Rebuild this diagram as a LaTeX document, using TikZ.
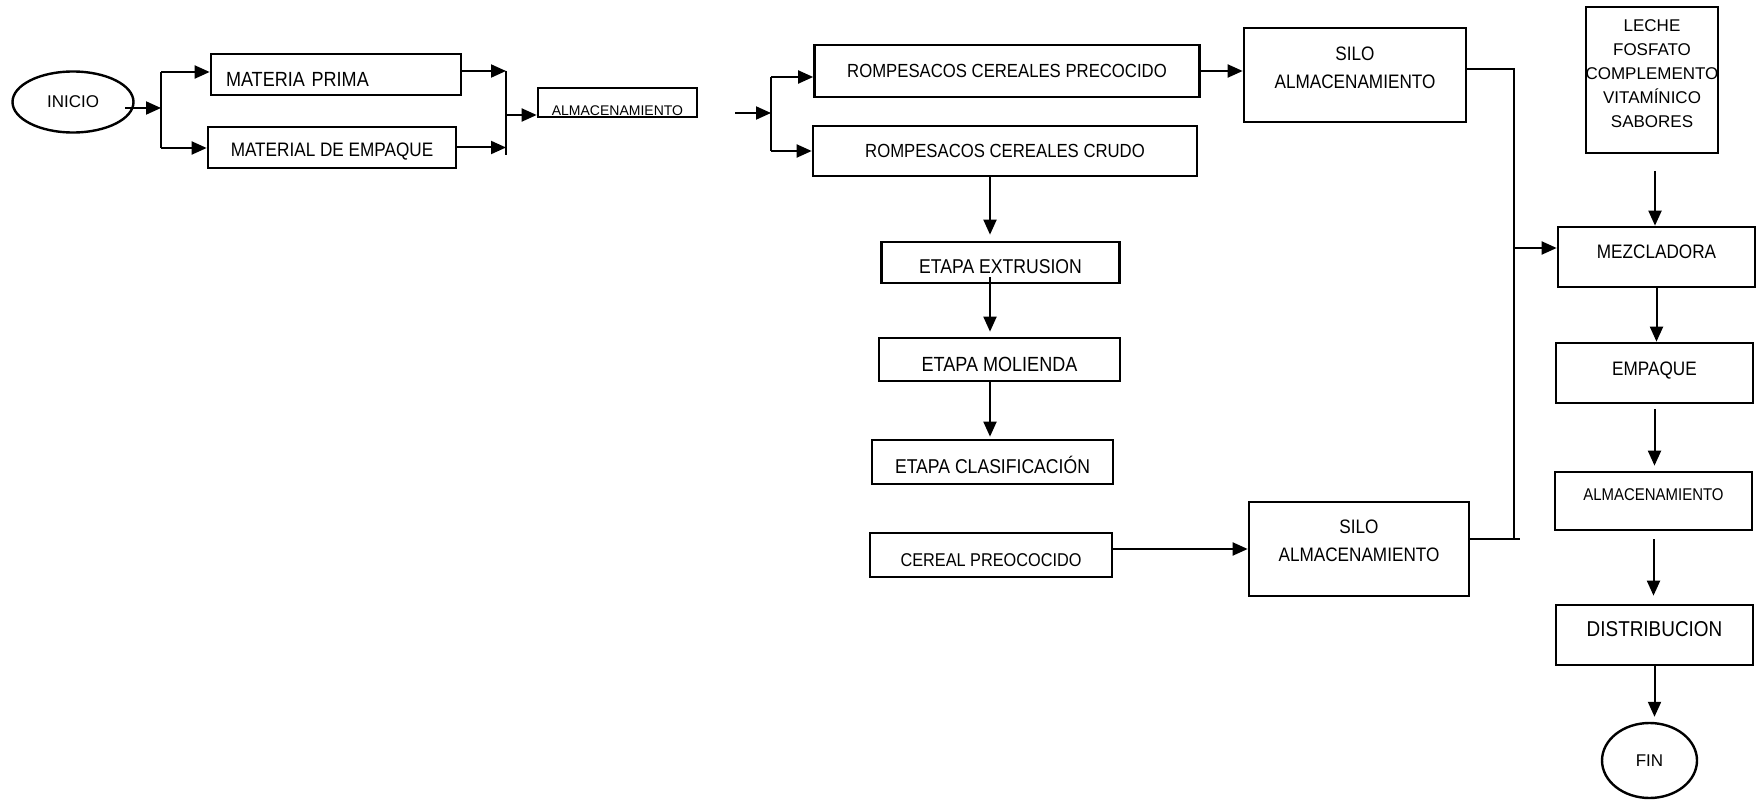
\documentclass[tikz,border=0pt]{standalone}
\usepackage{fontspec}
\setmainfont{Liberation Sans}
\newfontfamily\cf[FakeStretch=0.88]{Liberation Sans}
\newcommand\cfsz[2]{\cf\fontsize{#1}{#2}\selectfont}
\usetikzlibrary{arrows.meta,shapes.geometric,calc}
\begin{document}
\begin{tikzpicture}[x=1pt,y=-1pt,
  box/.style={draw, line width=2.7pt, rectangle, inner sep=0pt, font=\cfsz{19.5}{22}},
  oval/.style={draw, line width=2.4pt, ellipse, inner sep=0pt, font=\fontsize{17}{20}\selectfont},
  arr/.style={line width=2pt, -{Triangle[length=15pt,width=13pt]}},
  ln/.style={line width=2pt},
  txtlow/.style={text height=23pt, text depth=0pt},
  txthigh/.style={text height=10pt, text depth=6pt},
]
\useasboundingbox (0,0) rectangle (1762,802);

% nodes
\node[oval, minimum width=121pt, minimum height=61pt] (inicio) at (73,102) {INICIO};
\node[box, minimum width=250pt, minimum height=41pt, text width=220pt, align=left, font=\cfsz{20.5}{22}, text height=25pt, text depth=0pt] (mp) at (336,74.5) {MATERIA PRIMA};
\node[box, minimum width=248pt, minimum height=41pt, text height=18pt, text depth=0pt] (me) at (332,147.5) {MATERIAL DE EMPAQUE};
\node[box, minimum width=159pt, minimum height=29pt,
  label={[font=\fontsize{14}{16}\selectfont, anchor=base west, inner sep=0pt, xshift=15pt, yshift=3pt]south west:ALMACENAMIENTO}] (alma1) at (617.5,102.5) {};
\node[box, minimum width=385pt, minimum height=52pt, font=\cfsz{19}{22}] (rcp) at (1007,71) {ROMPESACOS CEREALES PRECOCIDO};
\node[box, minimum width=384pt, minimum height=50pt, font=\cfsz{19}{22}] (rcc) at (1005,151) {ROMPESACOS CEREALES CRUDO};
\node[box, minimum width=222pt, minimum height=94pt,
  label={[font=\cfsz{19.5}{28}, align=center, yshift=7.5pt]center:{SILO\\ALMACENAMIENTO}}] (silo1) at (1355,75) {};
\node[box, minimum width=238pt, minimum height=41pt, font=\cfsz{20}{22}, txtlow] (extr) at (1000.5,262.5) {ETAPA EXTRUSION};
\node[box, minimum width=241pt, minimum height=43pt, font=\cfsz{20.5}{22}, txtlow] (mol) at (999.5,359.5) {ETAPA MOLIENDA};
\node[box, minimum width=241pt, minimum height=44pt, font=\cfsz{20}{22}, txtlow] (clas) at (992.5,462) {ETAPA CLASIFICACIÓN};
\node[box, minimum width=242pt, minimum height=44pt, font=\cfsz{18.5}{22}, txtlow] (cereal) at (991,555) {CEREAL PREOCOCIDO};
\node[box, minimum width=220pt, minimum height=94pt,
  label={[font=\cfsz{19.5}{28}, align=center, yshift=8.5pt]center:{SILO\\ALMACENAMIENTO}}] (silo2) at (1359,549) {};
\node[box, minimum width=132pt, minimum height=146pt,
  label={[font=\fontsize{17}{24}\selectfont, align=center, yshift=6.5pt]center:{LECHE\\FOSFATO\\COMPLEMENTO\\VITAMÍNICO\\SABORES}}] (leche) at (1652,80) {};
\node[box, minimum width=197pt, minimum height=60pt, txthigh] (mez) at (1656.5,257) {MEZCLADORA};
\node[box, minimum width=197pt, minimum height=60pt, txthigh] (emp) at (1654.5,373) {EMPAQUE};
\node[box, minimum width=197pt, minimum height=58pt,
  label={[font=\cfsz{17}{20}, yshift=6pt]center:ALMACENAMIENTO}] (alma2) at (1653.5,501) {};
\node[box, minimum width=197pt, minimum height=60pt, font=\cfsz{21.5}{24}, text height=10pt, text depth=6.5pt] (dist) at (1654.5,635) {DISTRIBUCION};
\node[oval, minimum width=95pt, minimum height=75pt] (fin) at (1649.5,760.5) {FIN};

% left branch
\coordinate (ie) at (125,108);
\coordinate (b1) at (161,108);
\coordinate (b1t) at (161,72);
\coordinate (b1b) at (161,148);
\draw[arr] (ie) -- (b1);
\draw[ln] (b1t) -- (b1b);
\draw[arr] (b1t) -- (b1t -| mp.west);
\draw[arr] (b1b) -- (b1b -| me.west);

\coordinate (j1) at (506,115);
\coordinate (j1t) at (506,71);
\coordinate (j1b) at (506,155);
\coordinate (mpo) at ([yshift=3.5pt]mp.east);
\draw[arr] (mpo) -- (mpo -| j1);
\draw[arr] (me.east) -- (me.east -| j1);
\draw[ln] (j1t) -- (j1b);
\draw[arr] (j1) -- (j1 -| alma1.west);

% middle branch
\coordinate (a2) at (735,113);
\coordinate (j2) at (771,113);
\coordinate (j2t) at (771,77);
\coordinate (j2b) at (771,151);
\draw[arr] (a2) -- (j2);
\draw[ln] (j2t) -- (j2b);
\draw[arr] (j2t) -- (j2t -| rcp.west);
\draw[arr] (j2b) -- (j2b -| rcc.west);
\draw[arr] (rcp.east) -- (rcp.east -| silo1.west);

\coordinate (cx) at (990,0);
\coordinate (e2) at (990,277);
\draw[arr, shorten >=6pt] (rcc.south -| cx) -- (extr.north -| cx);
\draw[arr, shorten >=5pt] (e2) -- (mol.north -| cx);
\draw[arr, shorten >=2pt] (mol.south -| cx) -- (clas.north -| cx);
\coordinate (ce) at ([yshift=6pt]cereal.east);
\draw[arr] (ce) -- (ce -| silo2.west);

% right collector
\coordinate (s1) at ([yshift=6pt]silo1.east);
\coordinate (s2) at ([yshift=10pt]silo2.east);
\coordinate (r1) at (1514,69);
\coordinate (r2) at (1514,539);
\coordinate (r2e) at (1520,539);
\coordinate (rm) at (1514,248);
\draw[ln, line join=miter] (s1) -- (r1) -- (r2);
\draw[ln] (s2) -- (r2e);
\draw[arr] (rm) -- (rm -| mez.west);

% right column
\coordinate (lc) at (1655,171);
\draw[arr] (lc) -- (lc |- mez.north);
\draw[arr] (mez.south) -- (mez.south |- emp.north);
\draw[arr, shorten <=5pt, shorten >=5pt] (emp.south) -- (emp.south |- alma2.north);
\draw[arr, shorten <=8pt, shorten >=8pt] (alma2.south) -- (alma2.south |- dist.north);
\draw[arr, shorten >=5pt] (dist.south) -- (dist.south |- fin.north);
\end{tikzpicture}
\end{document}
